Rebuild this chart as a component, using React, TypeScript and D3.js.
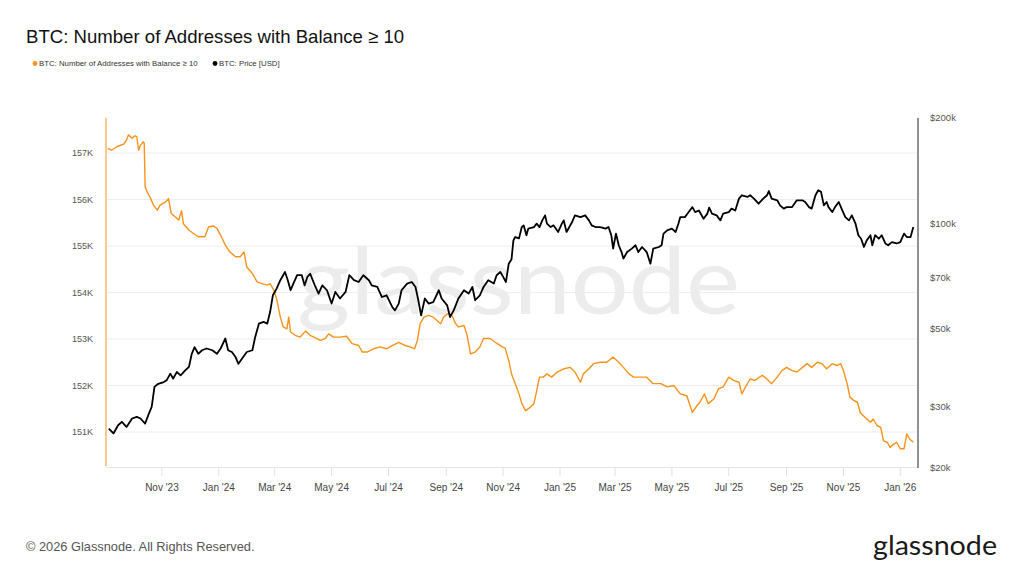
import React, { useEffect, useRef } from 'react';
import * as d3 from 'd3';

// Chart text
const TITLE = 'BTC: Number of Addresses with Balance ≥ 10';
const SERIES_ADDR = 'BTC: Number of Addresses with Balance ≥ 10';
const SERIES_PRICE = 'BTC: Price [USD]';

// Axis ticks
const addrTicks = [151, 152, 153, 154, 155, 156, 157]; // thousands
const priceTicks = [20, 30, 50, 70, 100, 200]; // k USD

// Number of addresses with balance >= 10 BTC (thousands)
const addresses: [string, number][] = [
  ['2023-09-04', 157.10], ['2023-09-08', 157.06], ['2023-09-14', 157.14], ['2023-09-21', 157.19],
  ['2023-09-24', 157.28], ['2023-09-26', 157.39], ['2023-09-30', 157.32], ['2023-10-03', 157.37],
  ['2023-10-05', 157.35], ['2023-10-07', 157.06], ['2023-10-09', 157.17], ['2023-10-12', 157.24],
  ['2023-10-13', 157.21], ['2023-10-14', 156.27], ['2023-10-16', 156.17], ['2023-10-19', 156.06],
  ['2023-10-23', 155.88], ['2023-10-27', 155.77], ['2023-10-30', 155.88], ['2023-11-05', 155.95],
  ['2023-11-08', 156.02], ['2023-11-11', 155.70], ['2023-11-15', 155.63], ['2023-11-19', 155.56],
  ['2023-11-22', 155.76], ['2023-11-24', 155.48], ['2023-11-30', 155.34], ['2023-12-05', 155.27],
  ['2023-12-10', 155.20], ['2023-12-17', 155.20], ['2023-12-21', 155.41], ['2023-12-26', 155.43],
  ['2023-12-30', 155.38], ['2024-01-03', 155.23], ['2024-01-08', 155.02], ['2024-01-13', 154.87],
  ['2024-01-19', 154.77], ['2024-01-24', 154.77], ['2024-01-28', 154.87], ['2024-01-31', 154.55],
  ['2024-02-06', 154.41], ['2024-02-11', 154.23], ['2024-02-16', 154.19], ['2024-02-22', 154.16],
  ['2024-02-25', 154.19], ['2024-02-29', 154.05], ['2024-03-03', 153.87], ['2024-03-07', 153.47],
  ['2024-03-10', 153.26], ['2024-03-14', 153.22], ['2024-03-16', 153.47], ['2024-03-18', 153.15],
  ['2024-03-23', 153.08], ['2024-03-28', 153.04], ['2024-04-03', 153.17], ['2024-04-08', 153.08],
  ['2024-04-12', 153.04], ['2024-04-19', 152.97], ['2024-04-24', 153.01], ['2024-04-28', 153.11],
  ['2024-05-03', 153.04], ['2024-05-10', 153.04], ['2024-05-17', 153.06], ['2024-05-23', 152.90],
  ['2024-05-30', 152.86], ['2024-06-03', 152.72], ['2024-06-08', 152.72], ['2024-06-15', 152.79],
  ['2024-06-22', 152.83], ['2024-06-29', 152.79], ['2024-07-05', 152.86], ['2024-07-12', 152.93],
  ['2024-07-19', 152.86], ['2024-07-24', 152.83], ['2024-07-29', 152.79], ['2024-08-01', 152.97],
  ['2024-08-04', 153.33], ['2024-08-08', 153.47], ['2024-08-13', 153.51], ['2024-08-18', 153.47],
  ['2024-08-22', 153.40], ['2024-08-26', 153.33], ['2024-08-29', 153.47], ['2024-09-03', 153.55],
  ['2024-09-07', 153.51], ['2024-09-11', 153.33], ['2024-09-14', 153.26], ['2024-09-20', 153.29],
  ['2024-09-23', 153.11], ['2024-09-27', 152.68], ['2024-10-02', 152.72], ['2024-10-07', 152.83],
  ['2024-10-11', 153.01], ['2024-10-18', 153.01], ['2024-10-25', 152.91], ['2024-10-31', 152.83],
  ['2024-11-03', 152.81], ['2024-11-07', 152.54], ['2024-11-10', 152.25], ['2024-11-14', 152.04],
  ['2024-11-18', 151.82], ['2024-11-21', 151.61], ['2024-11-25', 151.46], ['2024-11-30', 151.53],
  ['2024-12-04', 151.61], ['2024-12-07', 151.89], ['2024-12-10', 152.18], ['2024-12-14', 152.18],
  ['2024-12-18', 152.25], ['2024-12-23', 152.18], ['2024-12-29', 152.29], ['2025-01-05', 152.36],
  ['2025-01-12', 152.39], ['2025-01-17', 152.29], ['2025-01-23', 152.07], ['2025-01-26', 152.25],
  ['2025-02-01', 152.36], ['2025-02-06', 152.47], ['2025-02-13', 152.50], ['2025-02-20', 152.50],
  ['2025-02-27', 152.61], ['2025-03-05', 152.50], ['2025-03-10', 152.39], ['2025-03-16', 152.25],
  ['2025-03-21', 152.18], ['2025-03-28', 152.18], ['2025-04-04', 152.18], ['2025-04-11', 152.04],
  ['2025-04-19', 152.04], ['2025-04-26', 151.97], ['2025-05-03', 152.00], ['2025-05-10', 151.82],
  ['2025-05-17', 151.78], ['2025-05-23', 151.42], ['2025-05-28', 151.57], ['2025-05-31', 151.64],
  ['2025-06-05', 151.82], ['2025-06-09', 151.61], ['2025-06-15', 151.71], ['2025-06-20', 151.93],
  ['2025-06-25', 151.97], ['2025-07-01', 152.18], ['2025-07-06', 152.11], ['2025-07-12', 152.07],
  ['2025-07-15', 151.82], ['2025-07-19', 151.97], ['2025-07-24', 152.14], ['2025-07-29', 152.11],
  ['2025-08-06', 152.22], ['2025-08-11', 152.14], ['2025-08-16', 152.04], ['2025-08-22', 152.18],
  ['2025-08-27', 152.32], ['2025-09-01', 152.39], ['2025-09-07', 152.32], ['2025-09-12', 152.29],
  ['2025-09-18', 152.39], ['2025-09-23', 152.47], ['2025-09-28', 152.39], ['2025-10-04', 152.50],
  ['2025-10-09', 152.47], ['2025-10-14', 152.36], ['2025-10-20', 152.47], ['2025-10-25', 152.43],
  ['2025-10-29', 152.47], ['2025-11-01', 152.32], ['2025-11-05', 152.04], ['2025-11-08', 151.75],
  ['2025-11-12', 151.68], ['2025-11-16', 151.64], ['2025-11-19', 151.42], ['2025-11-24', 151.32],
  ['2025-11-30', 151.21], ['2025-12-03', 151.28], ['2025-12-07', 151.14], ['2025-12-11', 151.10],
  ['2025-12-14', 150.81], ['2025-12-18', 150.78], ['2025-12-21', 150.67], ['2025-12-25', 150.74],
  ['2025-12-28', 150.78], ['2026-01-01', 150.64], ['2026-01-05', 150.64], ['2026-01-08', 150.96],
  ['2026-01-11', 150.85], ['2026-01-15', 150.78],
];

// BTC price (k USD)
const price: [string, number][] = [
  ['2023-09-05', 25.9], ['2023-09-10', 25.1], ['2023-09-15', 26.5], ['2023-09-19', 27.1],
  ['2023-09-24', 26.2], ['2023-09-30', 27.7], ['2023-10-05', 28.0], ['2023-10-09', 27.7],
  ['2023-10-14', 26.8], ['2023-10-18', 28.6], ['2023-10-21', 29.9], ['2023-10-24', 34.1],
  ['2023-10-28', 34.8], ['2023-11-03', 35.2], ['2023-11-06', 35.6], ['2023-11-10', 37.2],
  ['2023-11-13', 36.0], ['2023-11-17', 37.6], ['2023-11-21', 36.8], ['2023-11-26', 38.0],
  ['2023-11-30', 38.9], ['2023-12-03', 42.4], ['2023-12-06', 44.3], ['2023-12-10', 42.4],
  ['2023-12-14', 43.4], ['2023-12-19', 43.9], ['2023-12-25', 43.4], ['2023-12-30', 42.4],
  ['2024-01-03', 43.9], ['2024-01-08', 46.9], ['2024-01-11', 43.4], ['2024-01-15', 42.9],
  ['2024-01-19', 41.5], ['2024-01-22', 39.7], ['2024-01-26', 41.1], ['2024-01-31', 42.9],
  ['2024-02-06', 43.4], ['2024-02-09', 47.3], ['2024-02-13', 51.7], ['2024-02-18', 52.3],
  ['2024-02-22', 51.7], ['2024-02-25', 55.8], ['2024-02-28', 62.3], ['2024-03-03', 65.1],
  ['2024-03-07', 68.8], ['2024-03-12', 72.6], ['2024-03-15', 68.8], ['2024-03-18', 64.4],
  ['2024-03-21', 67.3], ['2024-03-25', 71.1], ['2024-03-30', 71.1], ['2024-04-02', 66.5],
  ['2024-04-05', 70.3], ['2024-04-08', 71.8], ['2024-04-13', 66.5], ['2024-04-17', 63.0],
  ['2024-04-21', 66.5], ['2024-04-26', 64.4], ['2024-05-01', 59.0], ['2024-05-05', 63.7],
  ['2024-05-10', 61.0], ['2024-05-16', 63.7], ['2024-05-20', 71.1], ['2024-05-25', 68.8],
  ['2024-05-30', 68.0], ['2024-06-04', 71.1], ['2024-06-10', 68.8], ['2024-06-13', 66.5],
  ['2024-06-19', 65.8], ['2024-06-24', 61.6], ['2024-06-29', 62.3], ['2024-07-05', 57.7],
  ['2024-07-08', 56.4], ['2024-07-12', 59.0], ['2024-07-15', 64.4], ['2024-07-21', 67.3],
  ['2024-07-26', 68.0], ['2024-07-30', 65.8], ['2024-08-02', 60.3], ['2024-08-05', 54.6],
  ['2024-08-09', 61.0], ['2024-08-13', 59.0], ['2024-08-18', 59.6], ['2024-08-24', 64.4],
  ['2024-08-27', 61.0], ['2024-09-02', 58.3], ['2024-09-05', 54.0], ['2024-09-09', 56.4],
  ['2024-09-14', 61.0], ['2024-09-20', 64.4], ['2024-09-25', 63.0], ['2024-09-29', 65.8],
  ['2024-10-02', 60.3], ['2024-10-07', 62.3], ['2024-10-11', 65.8], ['2024-10-16', 68.8],
  ['2024-10-22', 67.3], ['2024-10-25', 71.1], ['2024-10-29', 72.6], ['2024-11-01', 70.3],
  ['2024-11-04', 68.0], ['2024-11-07', 76.7], ['2024-11-10', 79.0], ['2024-11-12', 89.4],
  ['2024-11-14', 91.4], ['2024-11-18', 90.6], ['2024-11-21', 97.6], ['2024-11-23', 98.7],
  ['2024-11-26', 92.5], ['2024-11-28', 96.6], ['2024-12-04', 97.6], ['2024-12-07', 99.8],
  ['2024-12-10', 97.6], ['2024-12-13', 102.0], ['2024-12-16', 105.4], ['2024-12-18', 99.8],
  ['2024-12-22', 97.6], ['2024-12-25', 98.7], ['2024-12-30', 94.5], ['2025-01-03', 99.8],
  ['2025-01-05', 102.0], ['2025-01-08', 94.5], ['2025-01-14', 100.9], ['2025-01-17', 105.4],
  ['2025-01-23', 104.2], ['2025-01-28', 105.4], ['2025-02-01', 102.0], ['2025-02-04', 98.7],
  ['2025-02-08', 97.6], ['2025-02-13', 97.6], ['2025-02-19', 96.6], ['2025-02-22', 97.6],
  ['2025-02-25', 92.5], ['2025-02-27', 84.7], ['2025-03-02', 93.5], ['2025-03-05', 86.6],
  ['2025-03-08', 82.8], ['2025-03-10', 79.3], ['2025-03-14', 82.8], ['2025-03-19', 84.7],
  ['2025-03-23', 86.6], ['2025-03-26', 82.8], ['2025-03-30', 85.6], ['2025-04-04', 82.8],
  ['2025-04-08', 76.7], ['2025-04-11', 84.7], ['2025-04-17', 85.6], ['2025-04-20', 86.6],
  ['2025-04-22', 93.5], ['2025-04-26', 95.5], ['2025-05-01', 96.6], ['2025-05-05', 94.5],
  ['2025-05-08', 99.8], ['2025-05-10', 104.2], ['2025-05-15', 104.2], ['2025-05-19', 107.7],
  ['2025-05-23', 111.3], ['2025-05-26', 107.7], ['2025-05-30', 108.8], ['2025-06-04', 103.1],
  ['2025-06-08', 106.6], ['2025-06-10', 110.9], ['2025-06-13', 106.6], ['2025-06-18', 105.4],
  ['2025-06-22', 102.0], ['2025-06-25', 106.6], ['2025-07-01', 107.7], ['2025-07-04', 110.2],
  ['2025-07-08', 108.8], ['2025-07-12', 117.7], ['2025-07-15', 120.3], ['2025-07-21', 119.0],
  ['2025-07-24', 120.3], ['2025-07-28', 117.7], ['2025-08-02', 113.8], ['2025-08-07', 117.7],
  ['2025-08-11', 120.3], ['2025-08-13', 123.7], ['2025-08-16', 117.7], ['2025-08-22', 116.4],
  ['2025-08-25', 112.6], ['2025-08-29', 110.2], ['2025-09-01', 111.3], ['2025-09-07', 111.3],
  ['2025-09-12', 116.4], ['2025-09-18', 116.4], ['2025-09-21', 115.1], ['2025-09-25', 111.3],
  ['2025-09-28', 110.2], ['2025-10-02', 120.3], ['2025-10-05', 124.3], ['2025-10-08', 123.0],
  ['2025-10-11', 112.6], ['2025-10-14', 115.1], ['2025-10-16', 111.3], ['2025-10-20', 107.7],
  ['2025-10-23', 111.3], ['2025-10-27', 115.1], ['2025-10-30', 110.2], ['2025-11-03', 104.2],
  ['2025-11-07', 102.0], ['2025-11-10', 105.4], ['2025-11-14', 99.8], ['2025-11-17', 92.5],
  ['2025-11-20', 90.4], ['2025-11-23', 85.6], ['2025-11-26', 89.4], ['2025-11-30', 92.5],
  ['2025-12-02', 86.6], ['2025-12-05', 92.5], ['2025-12-09', 90.4], ['2025-12-12', 92.5],
  ['2025-12-16', 87.6], ['2025-12-19', 86.6], ['2025-12-23', 88.4], ['2025-12-28', 87.6],
  ['2026-01-01', 88.4], ['2026-01-05', 93.5], ['2026-01-08', 91.4], ['2026-01-12', 91.4],
  ['2026-01-15', 97.6],
];

const ORANGE = '#f7931a';
const FONT = '"Liberation Sans", Arial, Helvetica, sans-serif';

const App = () => {
  const svgRef = useRef<SVGSVGElement | null>(null);

  useEffect(() => {
    if (!svgRef.current) return;
    const svg = d3.select(svgRef.current);
    svg.selectAll('*').remove();

    const plot = { left: 106, right: 918, top: 118, bottom: 468 };
    const parse = d3.utcParse('%Y-%m-%d');

    const addrData = addresses.map(([d, v]) => ({ date: parse(d) as Date, value: v }));
    const priceData = price.map(([d, v]) => ({ date: parse(d) as Date, value: v }));

    // Scales
    const x = d3.scaleUtc()
      .domain([new Date(Date.UTC(2023, 8, 2)), new Date(Date.UTC(2026, 0, 20))])
      .range([plot.left, plot.right]);
    const yAddr = d3.scaleLinear()
      .domain([150.226, 157.753])
      .range([plot.bottom, plot.top]);
    const yPrice = d3.scaleLog()
      .domain([20, 200])
      .range([plot.bottom, plot.top]);

    svg.append('rect')
      .attr('width', 1024)
      .attr('height', 576)
      .attr('fill', '#fff');

    // Title
    svg.append('text')
      .attr('x', 26)
      .attr('y', 43)
      .style('font-family', FONT)
      .style('font-size', '18.6px')
      .attr('fill', '#111')
      .text(TITLE);

    // Legend
    const legend = [
      { label: SERIES_ADDR, color: ORANGE, x: 35 },
      { label: SERIES_PRICE, color: '#000', x: 215 },
    ];
    legend.forEach(item => {
      svg.append('circle')
        .attr('cx', item.x)
        .attr('cy', 63.5)
        .attr('r', 2.4)
        .attr('fill', item.color);
      svg.append('text')
        .attr('x', item.x + 4)
        .attr('y', 66.3)
        .style('font-family', FONT)
        .style('font-size', '7.8px')
        .attr('fill', '#333')
        .text(item.label);
    });

    // Gridlines
    svg.append('g')
      .selectAll('line')
      .data(addrTicks)
      .enter()
      .append('line')
      .attr('x1', plot.left + 1)
      .attr('x2', plot.right - 1)
      .attr('y1', d => yAddr(d))
      .attr('y2', d => yAddr(d))
      .attr('stroke', '#eeeeee')
      .attr('stroke-width', 1);

    // Watermark
    svg.append('text')
      .attr('x', 297)
      .attr('y', 314)
      .attr('textLength', 443)
      .attr('lengthAdjust', 'spacingAndGlyphs')
      .style('font-family', 'Lato, "Noto Sans", sans-serif')
      .style('font-size', '94px')
      .attr('fill', '#ececec')
      .text('glassnode');

    // X axis
    svg.append('line')
      .attr('x1', plot.left)
      .attr('x2', plot.right)
      .attr('y1', plot.bottom - 0.5)
      .attr('y2', plot.bottom - 0.5)
      .attr('stroke', '#e6e6e6');
    const xTicks = x.ticks(d3.utcMonth.every(2) as d3.TimeInterval);
    const fmt = d3.utcFormat("%b '%y");
    const xAxis = svg.append('g');
    xTicks.forEach(t => {
      xAxis.append('line')
        .attr('x1', x(t))
        .attr('x2', x(t))
        .attr('y1', plot.bottom)
        .attr('y2', plot.bottom + 8)
        .attr('stroke', '#e0e0e0');
      xAxis.append('text')
        .attr('x', x(t))
        .attr('y', 490.5)
        .attr('text-anchor', 'middle')
        .style('font-family', FONT)
        .style('font-size', '10px')
        .attr('fill', '#444')
        .text(fmt(t));
    });

    // Left axis (addresses)
    svg.append('line')
      .attr('x1', plot.left)
      .attr('x2', plot.left)
      .attr('y1', plot.top)
      .attr('y2', plot.bottom - 2)
      .attr('stroke', ORANGE)
      .attr('stroke-width', 1);
    svg.append('g')
      .selectAll('text')
      .data(addrTicks)
      .enter()
      .append('text')
      .attr('x', 93)
      .attr('y', d => yAddr(d))
      .attr('dy', '0.35em')
      .attr('text-anchor', 'end')
      .style('font-family', FONT)
      .style('font-size', '9px')
      .attr('fill', '#555')
      .text(d => `${d}K`);

    // Right axis (price)
    svg.append('line')
      .attr('x1', plot.right)
      .attr('x2', plot.right)
      .attr('y1', plot.top)
      .attr('y2', plot.bottom)
      .attr('stroke', '#222')
      .attr('stroke-width', 1);
    svg.append('g')
      .selectAll('text')
      .data(priceTicks)
      .enter()
      .append('text')
      .attr('x', 930)
      .attr('y', d => yPrice(d))
      .attr('dy', '0.35em')
      .style('font-family', FONT)
      .style('font-size', '9.5px')
      .attr('fill', '#555')
      .text(d => `$${d}k`);

    // Lines
    const addrLine = d3.line<{ date: Date; value: number }>()
      .x(d => x(d.date))
      .y(d => yAddr(d.value));
    const priceLine = d3.line<{ date: Date; value: number }>()
      .x(d => x(d.date))
      .y(d => yPrice(d.value));

    svg.append('path')
      .datum(addrData)
      .attr('fill', 'none')
      .attr('stroke', ORANGE)
      .attr('stroke-width', 1.4)
      .attr('stroke-linejoin', 'round')
      .attr('d', addrLine);

    svg.append('path')
      .datum(priceData)
      .attr('fill', 'none')
      .attr('stroke', '#000')
      .attr('stroke-width', 1.8)
      .attr('stroke-linejoin', 'round')
      .attr('d', priceLine);

    // Footer
    svg.append('text')
      .attr('x', 26)
      .attr('y', 551)
      .style('font-family', FONT)
      .style('font-size', '12.8px')
      .attr('fill', '#555')
      .text('© 2026 Glassnode. All Rights Reserved.');

    svg.append('text')
      .attr('x', 873)
      .attr('y', 555)
      .attr('textLength', 124)
      .attr('lengthAdjust', 'spacingAndGlyphs')
      .style('font-family', 'Lato, "Noto Sans", sans-serif')
      .style('font-size', '27px')
      .attr('fill', '#1a1a1a')
      .text('glassnode');
  }, []);

  return (
    <svg
      ref={svgRef}
      width={1024}
      height={576}
      style={{ position: 'absolute', left: 0, top: 0, display: 'block' }}
    />
  );
};

export default App;
